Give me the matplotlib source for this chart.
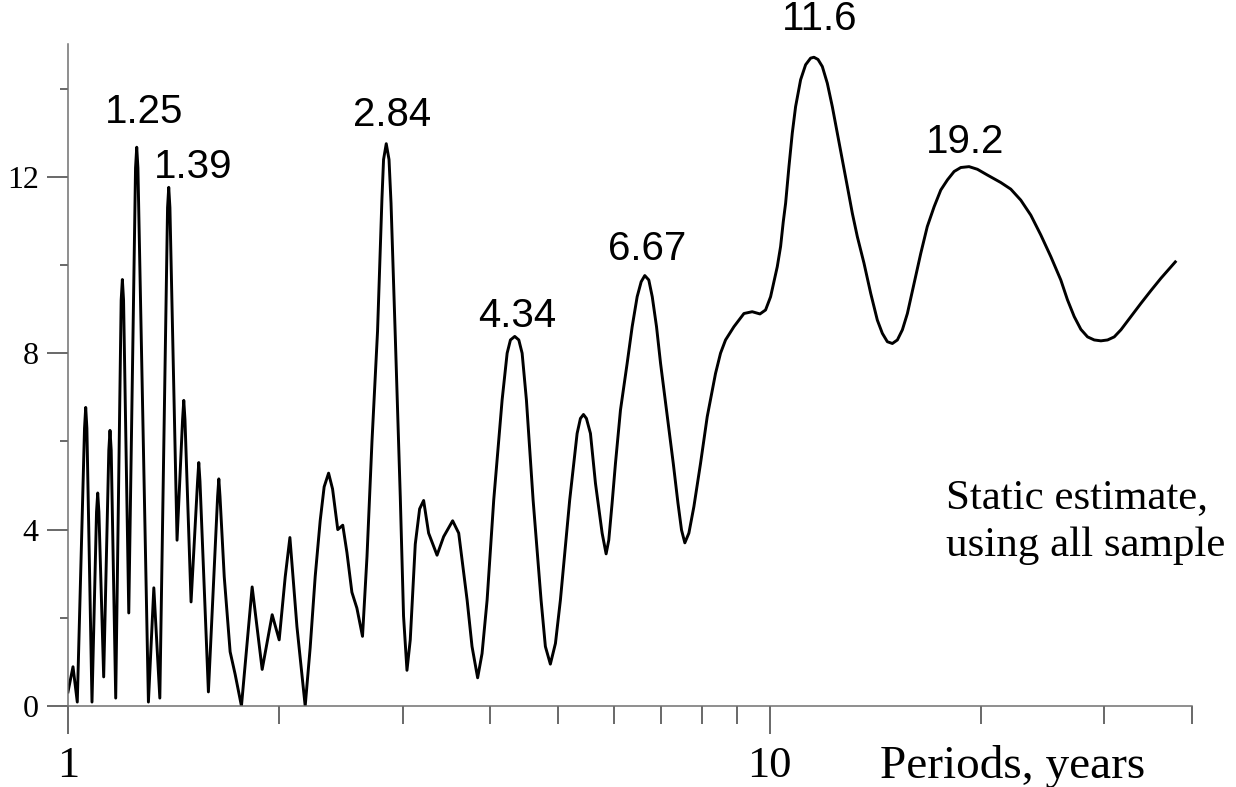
import matplotlib
matplotlib.use("Agg")
import matplotlib.pyplot as plt
from matplotlib.ticker import FixedLocator, NullFormatter

# periods (years) and spectral estimate
periods = [1.000, 1.0166, 1.0310, 1.0558, 1.0599, 1.0640, 1.0820, 1.0982, 1.1025, 1.1068,
           1.1243, 1.1434, 1.1479, 1.1524, 1.1696, 1.1907, 1.1954, 1.2001, 1.2208, 1.2482,
           1.2531, 1.2580, 1.3021, 1.3254, 1.3518, 1.3865, 1.3919, 1.3973, 1.4304, 1.4566,
           1.4623, 1.4680, 1.4977, 1.5301, 1.5361, 1.5421, 1.5854, 1.6341, 1.6405, 1.6469,
           1.670, 1.7026, 1.7308, 1.7670, 1.8302, 1.8914, 1.9545, 2.0000, 2.040, 2.0716,
           2.120, 2.1782, 2.214, 2.251, 2.288, 2.318, 2.352, 2.383, 2.424, 2.464,
           2.498, 2.539, 2.581, 2.629, 2.668, 2.712, 2.762, 2.802, 2.817, 2.842,
           2.868, 2.887, 2.928, 2.976, 3.008, 3.042, 3.075, 3.126, 3.171, 3.213,
           3.266, 3.3575, 3.431, 3.534, 3.605, 3.706, 3.766, 3.836, 3.892, 3.957,
           4.044, 4.157, 4.226, 4.272, 4.333, 4.391, 4.439, 4.502, 4.602, 4.724,
           4.791, 4.870, 4.952, 5.033, 5.189, 5.317, 5.375, 5.429, 5.482, 5.555,
           5.647, 5.772, 5.848, 5.899, 5.964, 6.030, 6.130, 6.266, 6.370, 6.475,
           6.561, 6.639, 6.727, 6.804, 6.900, 6.992, 7.130, 7.290, 7.403, 7.490,
           7.572, 7.673, 7.800, 7.972, 8.149, 8.374, 8.513, 8.654, 8.895, 9.193,
           9.446, 9.689, 9.869, 10.033, 10.255, 10.368, 10.459, 10.540, 10.656, 10.773,
           10.891, 11.072, 11.255, 11.441, 11.567, 11.722, 11.889, 12.086, 12.286, 12.490,
           12.697, 12.907, 13.121, 13.338, 13.632, 13.934, 14.242, 14.478, 14.718, 14.962,
           15.210, 15.462, 15.718, 16.066, 16.422, 16.778, 17.159, 17.539, 17.927, 18.324,
           18.730, 19.245, 19.779, 20.436, 21.355, 22.068, 22.806, 23.567, 24.355, 25.167,
           26.006, 26.581, 27.175, 27.776, 28.391, 29.020, 29.663, 30.321, 30.991, 31.677,
           32.735, 33.827, 34.958, 36.127, 37.867]
power = [0.32, 0.89, 0.09, 6.3, 6.77, 6.3, 0.09, 4.4, 4.83, 4.4,
         0.66, 5.8, 6.25, 5.8, 0.18, 9.2, 9.67, 9.2, 2.11, 12.2,
         12.67, 12.2, 0.09, 2.68, 0.18, 11.3, 11.76, 11.3, 3.76, 6.5,
         6.93, 6.5, 2.36, 5.1, 5.52, 5.1, 0.32, 4.75, 5.15, 4.75,
         2.93, 1.23, 0.72, 0.0, 2.70, 0.83, 2.07, 1.50, 2.93, 3.82,
         1.80, 0.0, 1.32, 2.94, 4.20, 4.97, 5.28, 4.92, 4.00, 4.10,
         3.48, 2.58, 2.22, 1.58, 3.39, 6.0, 8.5, 11.49, 12.39, 12.75,
         12.39, 11.40, 8.35, 4.74, 2.04, 0.81, 1.50, 3.67, 4.47, 4.66,
         3.92, 3.42, 3.84, 4.20, 3.92, 2.40, 1.35, 0.64, 1.19, 2.40,
         4.67, 6.94, 8.0, 8.30, 8.38, 8.30, 8.0, 6.94, 4.67, 2.40,
         1.35, 0.95, 1.42, 2.40, 4.67, 6.18, 6.52, 6.61, 6.52, 6.18,
         5.05, 3.92, 3.45, 3.76, 4.60, 5.50, 6.71, 7.77, 8.60, 9.28,
         9.62, 9.76, 9.66, 9.28, 8.60, 7.77, 6.71, 5.50, 4.60, 3.99,
         3.70, 3.92, 4.52, 5.50, 6.56, 7.54, 8.00, 8.30, 8.60, 8.90,
         8.94, 8.89, 8.98, 9.28, 9.96, 10.42, 10.98, 11.40, 12.23, 12.99,
         13.59, 14.20, 14.54, 14.69, 14.71, 14.66, 14.50, 14.12, 13.59, 12.99,
         12.38, 11.78, 11.17, 10.64, 10.04, 9.36, 8.75, 8.45, 8.26, 8.22,
         8.30, 8.53, 8.90, 9.58, 10.26, 10.87, 11.32, 11.70, 11.93, 12.12,
         12.21, 12.23, 12.17, 12.04, 11.87, 11.72, 11.47, 11.13, 10.68, 10.19,
         9.66, 9.21, 8.83, 8.54, 8.37, 8.30, 8.28, 8.30, 8.37, 8.53,
         8.83, 9.13, 9.42, 9.70, 10.07]

# peak labels: text and where it sits
peak_labels = ["1.25", "1.39", "2.84", "4.34", "6.67", "11.6", "19.2"]
label_x = [1.2857, 1.5076, 2.899, 4.372, 6.687, 11.785, 18.975]
label_y = [13.47, 12.22, 13.39, 8.84, 10.36, 15.58, 12.78]

fig = plt.figure(figsize=(12.36, 7.87), dpi=100)
ax = fig.add_axes([0.0550, 0.1029, 0.9094, 0.8406])

ax.plot(periods, power, color="black", lw=2.1, solid_joinstyle="round")

ax.set_xscale("log")
ax.set_xlim(1, 40)
ax.set_ylim(0, 15)

for s in ["top", "right"]:
    ax.spines[s].set_visible(False)
for s in ["left", "bottom"]:
    ax.spines[s].set_color("#707070")
    ax.spines[s].set_linewidth(1.1)

serif = "Liberation Serif"
sans = "Liberation Sans"

ax.xaxis.set_major_locator(FixedLocator([1, 10]))
ax.xaxis.set_minor_locator(FixedLocator([2, 3, 4, 5, 6, 7, 8, 9, 20, 30, 40]))
ax.xaxis.set_minor_formatter(NullFormatter())
ax.set_xticklabels(["1", "10"], fontfamily=serif, fontsize=32)
ax.tick_params(axis="x", which="major", length=20, width=1.1, color="#404040", pad=9)
ax.tick_params(axis="x", which="minor", length=13, width=1.1, color="#404040")

ax.set_yticks([0, 4, 8, 12])
ax.set_yticks([2, 6, 10, 14], minor=True)
ax.set_yticklabels(["0", "4", "8", "12"], fontfamily=serif, fontsize=23)
ax.tick_params(axis="y", which="major", length=15, width=1.1, color="#404040", pad=6)
ax.tick_params(axis="y", which="minor", length=6, width=1.1, color="#404040")

for t, x, y in zip(peak_labels, label_x, label_y):
    ax.text(x, y, t, fontfamily=sans, fontsize=29, ha="center", va="center")

ax.text(17.83, 4.49, "Static estimate,", fontfamily=serif, fontsize=31, ha="left", va="baseline")
ax.text(17.83, 3.40, "using all sample", fontfamily=serif, fontsize=31, ha="left", va="baseline")

fig.text(880 / 1236, 1 - 778 / 787, "Periods, years", fontfamily=serif, fontsize=34,
         ha="left", va="baseline")

fig.savefig("out.png", dpi=100)
